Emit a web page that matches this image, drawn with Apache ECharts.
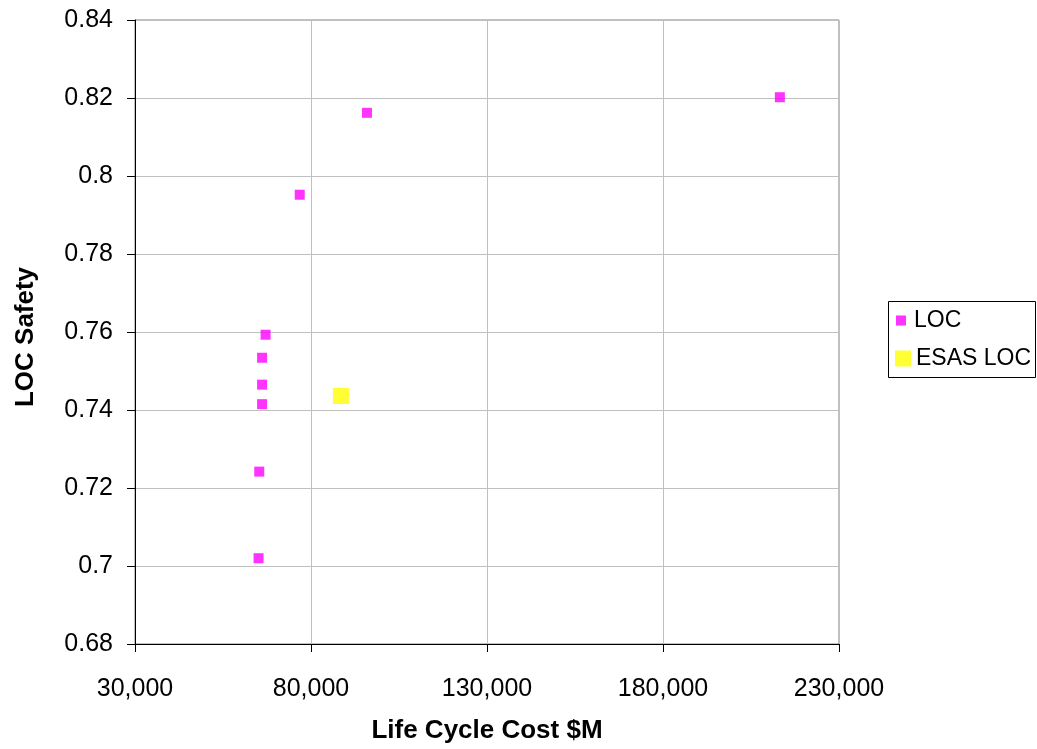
<!DOCTYPE html>
<html>
<head>
<meta charset="utf-8">
<script src="https://cdn.jsdelivr.net/npm/echarts@6/dist/echarts.min.js"></script>
<style>
html,body{margin:0;padding:0;background:#fff;}
#chart{width:1037px;height:749px;}
</style>
</head>
<body>
<div id="chart"></div>
<script>
const locCost = [213200, 95900, 76800, 67100, 66100, 66100, 66100, 65300, 65100];
const locSafety = [0.8202, 0.8162, 0.7952, 0.7593, 0.7534, 0.7465, 0.7415, 0.7242, 0.702];
const esasCost = [88500];
const esasSafety = [0.7436];
const seriesNames = ['LOC', 'ESAS LOC'];
const xTitle = 'Life Cycle Cost $M';
const yTitle = 'LOC Safety';

const FONT = '"Liberation Sans", Arial, sans-serif';
const chart = echarts.init(document.getElementById('chart'), null, {renderer: 'canvas'});

const option = {
  backgroundColor: '#fff',
  animation: false,
  grid: {left: 135, top: 20, width: 704, height: 626, show: true, borderColor: '#808080', borderWidth: 1, backgroundColor: '#fff'},
  xAxis: {
    type: 'value', min: 30000, max: 230000, interval: 50000,
    name: xTitle, nameLocation: 'middle', nameGap: 74,
    nameTextStyle: {fontFamily: FONT, fontSize: 26, fontWeight: 'bold', color: '#000'},
    axisLine: {show: true, lineStyle: {color: '#000', width: 1}},
    axisTick: {show: true, length: 8, lineStyle: {color: '#000'}},
    axisLabel: {margin: 33, fontFamily: FONT, fontSize: 25, color: '#000',
      formatter: v => Math.round(v).toLocaleString('en-US')},
    splitLine: {show: true, lineStyle: {color: '#c0c0c0', width: 1}}
  },
  yAxis: {
    type: 'value', min: 0.68, max: 0.84, interval: 0.02,
    name: yTitle, nameLocation: 'middle', nameGap: 96,
    nameTextStyle: {fontFamily: FONT, fontSize: 26, fontWeight: 'bold', color: '#000', padding: [0, 10, 0, 0]},
    axisLine: {show: true, lineStyle: {color: '#000', width: 1}},
    axisTick: {show: true, length: 8, lineStyle: {color: '#000'}},
    axisLabel: {margin: 22, fontFamily: FONT, fontSize: 25, color: '#000',
      formatter: v => String(+v.toFixed(2))},
    splitLine: {show: true, lineStyle: {color: '#c0c0c0', width: 1}}
  },
  legend: [
    {data: [seriesNames[0]], left: 896, top: 309, orient: 'vertical', itemWidth: 10, itemHeight: 10, padding: 0,
      textStyle: {fontFamily: FONT, fontSize: 23, color: '#000', padding: [0,0,0,3]}},
    {data: [seriesNames[1]], left: 895, top: 347, orient: 'vertical', itemWidth: 16, itemHeight: 16, padding: 0,
      textStyle: {fontFamily: FONT, fontSize: 23, color: '#000', padding: [0,0,0,0]}}
  ],
  graphic: [
    {type: 'rect', left: 886, top: 299, shape: {width: 147, height: 76}, style: {fill: 'none', stroke: '#000', lineWidth: 1}, z: 0, silent: true}
  ],
  series: [
    {name: seriesNames[0], type: 'scatter', symbol: 'rect', symbolSize: 10,
      itemStyle: {color: '#ff00ff'},
      data: locCost.map((c, i) => [c, locSafety[i]])},
    {name: seriesNames[1], type: 'scatter', symbol: 'rect', symbolSize: 16,
      itemStyle: {color: '#ffff00'},
      data: esasCost.map((c, i) => [c, esasSafety[i]])}
  ]
};
chart.setOption(option);
</script>
</body>
</html>
